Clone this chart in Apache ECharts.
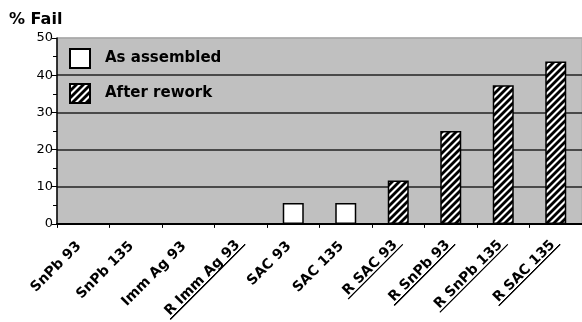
<!DOCTYPE html>
<html>
<head>
<meta charset="utf-8">
<script src="https://cdn.jsdelivr.net/npm/echarts@6/dist/echarts.min.js"></script>
<style>
  html, body { margin: 0; padding: 0; background: #fff; }
  #chart { width: 582px; height: 322px; }
</style>
</head>
<body>
<div id="chart"></div>
<script>
// Solder finish / condition groups along the x axis
const categories = ['SnPb 93', 'SnPb 135', 'Imm Ag 93', 'R Imm Ag 93', 'SAC 93', 'SAC 135',
                    'R SAC 93', 'R SnPb 93', 'R SnPb 135', 'R SAC 135'];
// Percent of failures per group
const asAssembled = [0, 0, 0, null, 5.6, 5.6, null, null, null, null];
const afterRework = [null, null, null, 0, null, null, 11.7, 25, 37.3, 43.7];
const yTicks = { min: 0, max: 50, step: 10 };

// Diagonal "/" hatch used for reworked groups
function hatchCanvas() {
  const s = 7;
  const c = document.createElement('canvas');
  c.width = s; c.height = s;
  const g = c.getContext('2d');
  g.fillStyle = '#fff';
  g.fillRect(0, 0, s, s);
  g.strokeStyle = '#000';
  g.lineWidth = 2.8;
  for (const o of [-s, 0, s]) {
    g.beginPath();
    g.moveTo(o - 1, s + 1);
    g.lineTo(o + s + 1, -1);
    g.stroke();
  }
  return c;
}

// Thin bar along the bottom of a text box, stretched to act as an underline
function underlineCanvas() {
  const c = document.createElement('canvas');
  c.width = 4; c.height = 32;
  const g = c.getContext('2d');
  g.fillStyle = '#000';
  g.fillRect(0, 29, 4, 3);
  return c;
}

const hatch = hatchCanvas();
const underline = underlineCanvas();
const font = 'DejaVu Sans';

const chart = echarts.init(document.getElementById('chart'), null, { renderer: 'canvas' });

chart.setOption({
  animation: false,
  backgroundColor: '#fff',
  title: {
    text: '% Fail',
    left: 9, top: 12, padding: 0,
    textStyle: { fontFamily: font, fontSize: 16, fontWeight: 'bold', color: '#000' }
  },
  legend: {
    orient: 'vertical',
    left: 69, top: 48, padding: 0,
    itemWidth: 20, itemHeight: 19, itemGap: 14,
    icon: 'rect',
    data: ['As assembled', 'After rework'],
    textStyle: { fontFamily: font, fontSize: 15, fontWeight: 'bold', color: '#000', padding: [0, 0, 0, 10] }
  },
  grid: {
    left: 57, top: 38, width: 531, height: 186,
    show: true,
    backgroundColor: '#c0c0c0',
    borderColor: '#a8a8a8',
    borderWidth: 1
  },
  xAxis: {
    type: 'category',
    data: categories,
    axisLine: { lineStyle: { color: '#000', width: 2 } },
    axisTick: { show: true, length: 4, lineStyle: { color: '#000', width: 1 } },
    axisLabel: {
      interval: 0,
      rotate: 45,
      margin: 16,
      formatter: v => (v.startsWith('R ') ? '{u|' + v + '}' : '{n|' + v + '}'),
      rich: {
        n: { fontFamily: font, fontSize: 14, fontWeight: 'bold', color: '#000', lineHeight: 14, padding: [0, 6, 0, 0] },
        u: {
          fontFamily: font, fontSize: 14, fontWeight: 'bold', color: '#000', lineHeight: 14,
          padding: [0, 4, 0, 2],
          backgroundColor: { image: underline }
        }
      }
    }
  },
  yAxis: {
    type: 'value',
    min: yTicks.min, max: yTicks.max, interval: yTicks.step,
    axisLine: { show: true, lineStyle: { color: '#000', width: 1.5 } },
    axisTick: { show: true, length: 5, lineStyle: { color: '#000' } },
    minorTick: { show: true, splitNumber: 2, length: 4, lineStyle: { color: '#000' } },
    axisLabel: { fontFamily: font, fontSize: 13, color: '#000', margin: 4 },
    splitLine: {
      show: true,
      lineStyle: { color: ['#222', '#222', '#222', '#222', '#222', '#a8a8a8'], width: 1.5 }
    }
  },
  series: [
    {
      name: 'As assembled',
      type: 'bar',
      data: asAssembled,
      barWidth: 21,
      barGap: '-100%',
      itemStyle: { color: '#fff', borderColor: '#000', borderWidth: 1.5 }
    },
    {
      name: 'After rework',
      type: 'bar',
      data: afterRework,
      barWidth: 21,
      barGap: '-100%',
      itemStyle: { color: { image: hatch, repeat: 'repeat' }, borderColor: '#000', borderWidth: 1.5 }
    }
  ]
});
</script>
</body>
</html>
